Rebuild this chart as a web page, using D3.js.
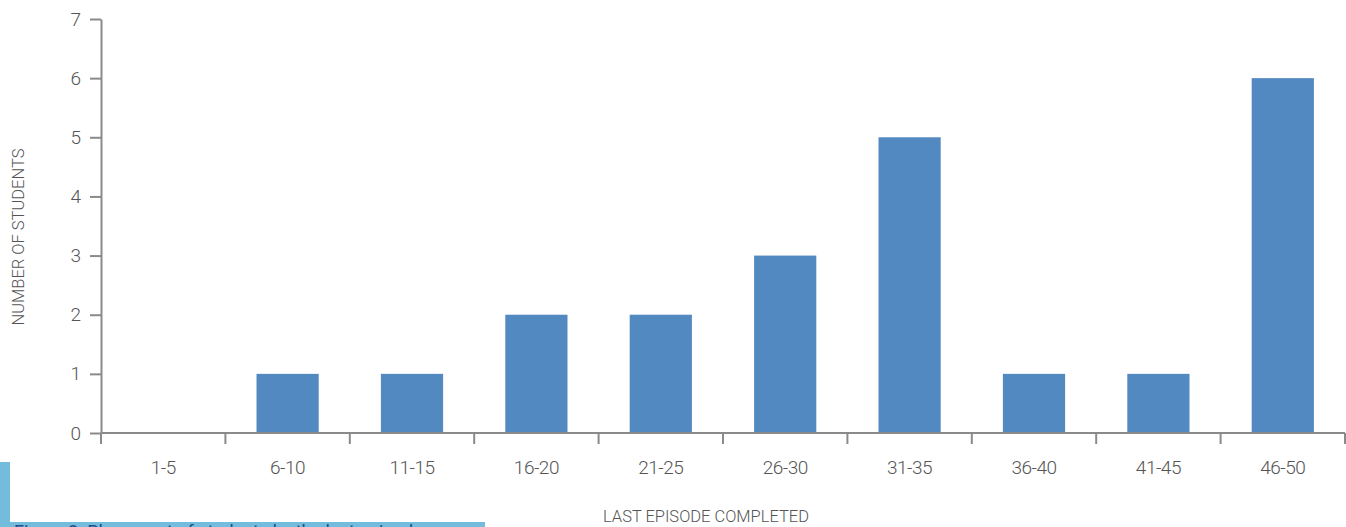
<!DOCTYPE html>
<html>
<head>
<meta charset="utf-8">
<script src="https://cdn.jsdelivr.net/npm/d3@7"></script>
<style>
  body { margin: 0; background: #fff; }
  svg text { font-family: Roboto, "Liberation Sans", sans-serif; font-weight: 300; fill: #555; }
</style>
</head>
<body>
<svg id="chart" width="1346" height="527"></svg>
<script>
const categories = ["1-5", "6-10", "11-15", "16-20", "21-25", "26-30", "31-35", "36-40", "41-45", "46-50"];
const students = [0, 1, 1, 2, 2, 3, 5, 1, 1, 6];
const yTicks = [0, 1, 2, 3, 4, 5, 6, 7];

const svg = d3.select("svg#chart");
const plotLeft = 101, plotRight = 1345, plotTop = 19, plotBottom = 433;

const xScale = d3.scaleBand().domain(categories).range([plotLeft, plotRight]).paddingInner(0.5).paddingOuter(0.25);
const xEdges = d3.scaleLinear().domain([0, categories.length]).range([plotLeft, plotRight]);
const yScale = d3.scaleLinear().domain([0, 7]).range([plotBottom, plotTop]);

// bars
svg.selectAll("rect.bar")
  .data(categories)
  .enter()
  .append("rect")
  .attr("class", "bar")
  .attr("x", (d) => xScale(d))
  .attr("width", xScale.bandwidth())
  .attr("y", (d, i) => yScale(students[i]))
  .attr("height", (d, i) => plotBottom - yScale(students[i]))
  .attr("fill", "#5389c1");

const axisColor = "#8a8a8a";

// y axis
const yAxis = svg.append("g")
  .attr("transform", `translate(${plotLeft},0)`)
  .call(d3.axisLeft(yScale).tickValues(yTicks).tickFormat(d3.format("d")).tickSize(11).tickPadding(9).tickSizeOuter(0));
yAxis.select(".domain").attr("stroke", axisColor).attr("stroke-width", 2);
yAxis.selectAll(".tick line").attr("stroke", axisColor).attr("stroke-width", 2);
yAxis.selectAll(".tick text")
  .style("font-size", "19px")
  .style("font-family", "Roboto")
  .style("font-weight", 300)
  .style("fill", "#555");

// x axis line + boundary ticks
svg.append("line")
  .attr("x1", plotLeft).attr("x2", plotRight)
  .attr("y1", plotBottom).attr("y2", plotBottom)
  .attr("stroke", axisColor).attr("stroke-width", 2);
svg.selectAll("line.xtick")
  .data(d3.range(categories.length + 1))
  .enter()
  .append("line")
  .attr("class", "xtick")
  .attr("x1", (d) => xEdges(d)).attr("x2", (d) => xEdges(d))
  .attr("y1", plotBottom).attr("y2", plotBottom + 11)
  .attr("stroke", axisColor).attr("stroke-width", 2);

svg.selectAll("text.xlabel")
  .data(categories)
  .enter()
  .append("text")
  .attr("class", "xlabel")
  .attr("x", (d) => xScale(d) + xScale.bandwidth() / 2)
  .attr("y", 474)
  .attr("text-anchor", "middle")
  .style("font-size", "19px")
  .style("letter-spacing", "-0.5px")
  .text((d) => d);

// axis titles
svg.append("text")
  .attr("x", 706).attr("y", 522)
  .attr("text-anchor", "middle")
  .style("font-size", "17px")
  .attr("textLength", 206)
  .attr("lengthAdjust", "spacingAndGlyphs")
  .text("LAST EPISODE COMPLETED");

svg.append("text")
  .attr("transform", "translate(24,237) rotate(-90)")
  .attr("text-anchor", "middle")
  .style("font-size", "17px")
  .attr("textLength", 177)
  .attr("lengthAdjust", "spacingAndGlyphs")
  .text("NUMBER OF STUDENTS");

// cropped caption band from the page below
svg.append("rect").attr("x", 0).attr("y", 462).attr("width", 10).attr("height", 65).attr("fill", "#74bcdc");
svg.append("rect").attr("x", 0).attr("y", 522).attr("width", 485).attr("height", 5).attr("fill", "#74bcdc");
svg.append("text")
  .attr("x", 14).attr("y", 538)
  .style("font-size", "18px")
  .style("font-weight", 400)
  .style("fill", "#1f4e8c")
  .text("Figure 3: Placement of students by the last episode");
</script>
</body>
</html>
